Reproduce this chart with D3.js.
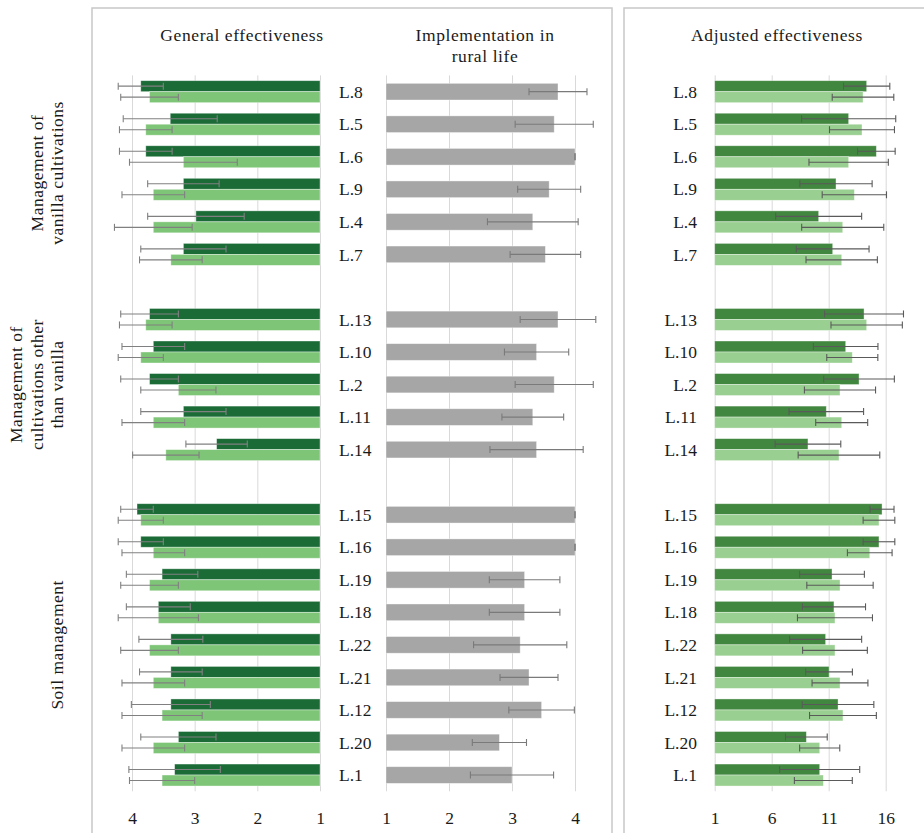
<!DOCTYPE html>
<html>
<head>
<meta charset="utf-8">
<script src="https://cdn.jsdelivr.net/npm/d3@7/dist/d3.min.js"></script>
<style>
  html, body { margin: 0; padding: 0; background: #fff; }
  svg { display: block; font-family: "Liberation Serif", "DejaVu Serif", serif; }
</style>
</head>
<body>
<svg id="chart" width="924" height="833"></svg>
<script>
// Practices, grouped by management area (top to bottom)
const groupNames = [
  ["Management of", "vanilla cultivations"],
  ["Management of", "cultivations other", "than vanilla"],
  ["Soil management"]
];
const groupItems = [
  ["L.8", "L.5", "L.6", "L.9", "L.4", "L.7"],
  ["L.13", "L.10", "L.2", "L.11", "L.14"],
  ["L.15", "L.16", "L.19", "L.18", "L.22", "L.21", "L.12", "L.20", "L.1"]
];
const items = groupItems.flat();

// General effectiveness (scale 1–4), two series with ± deviation
const generalDark    = [3.86, 3.39, 3.78, 3.18, 2.98, 3.18, 3.72, 3.66, 3.72, 3.18, 2.65, 3.92, 3.86, 3.52, 3.58, 3.38, 3.38, 3.38, 3.26, 3.32];
const generalDarkErr = [0.36, 0.75, 0.42, 0.57, 0.77, 0.68, 0.46, 0.50, 0.46, 0.68, 0.49, 0.26, 0.36, 0.57, 0.51, 0.51, 0.50, 0.63, 0.60, 0.73];
const generalLight    = [3.72, 3.78, 3.18, 3.66, 3.66, 3.38, 3.78, 3.86, 3.26, 3.66, 3.46, 3.86, 3.66, 3.72, 3.58, 3.72, 3.66, 3.52, 3.66, 3.52];
const generalLightErr = [0.46, 0.42, 0.86, 0.50, 0.62, 0.50, 0.42, 0.36, 0.60, 0.50, 0.53, 0.36, 0.50, 0.46, 0.64, 0.46, 0.50, 0.64, 0.50, 0.52];

// Implementation in rural life (scale 1–4)
const implementation    = [3.73, 3.67, 4.00, 3.59, 3.33, 3.53, 3.73, 3.39, 3.67, 3.33, 3.39, 4.00, 4.00, 3.20, 3.20, 3.13, 3.27, 3.47, 2.80, 3.00];
const implementationErr = [0.46, 0.62, 0.00, 0.50, 0.72, 0.56, 0.60, 0.51, 0.62, 0.49, 0.74, 0.00, 0.00, 0.56, 0.56, 0.74, 0.46, 0.52, 0.43, 0.66];

// Adjusted effectiveness (scale 1–16)
const adjustedDark    = [14.33, 12.75, 15.18, 11.64, 10.12, 11.35, 14.10, 12.49, 13.66, 10.79, 9.18, 15.68, 15.41, 11.29, 11.46, 10.73, 11.03, 11.82, 9.04, 10.21];
const adjustedDarkErr = [2.03, 4.13, 1.65, 3.17, 3.77, 3.19, 3.46, 2.83, 3.10, 3.27, 2.88, 1.05, 1.39, 2.84, 2.77, 3.16, 2.05, 3.14, 1.83, 3.51];
const adjustedLight    = [14.01, 13.92, 12.75, 13.25, 12.23, 12.14, 14.33, 13.07, 11.99, 12.14, 11.90, 15.41, 14.60, 11.99, 11.55, 11.55, 11.99, 12.25, 10.21, 10.53];
const adjustedLightErr = [2.70, 2.85, 3.48, 2.82, 3.60, 3.13, 3.13, 2.24, 3.12, 2.28, 3.58, 1.39, 1.96, 2.91, 3.29, 2.84, 2.45, 2.93, 1.76, 2.54];

// Axis ticks
const ticksGeneral = [4, 3, 2, 1];
const ticksImpl = [1, 2, 3, 4];
const ticksAdjusted = [1, 6, 11, 16];

const svg = d3.select("#chart");

// Row slots: one blank slot between groups
const slots = [];
groupItems.forEach((g, i) => {
  if (i > 0) slots.push("gap" + i);
  g.forEach(d => slots.push(d));
});

const plotTop = 75.4, plotBottom = 791.3;
const y = d3.scaleBand().domain(slots).range([plotTop, plotBottom]).paddingInner(0).paddingOuter(0);
const ySub = d3.scaleBand().domain(["dark", "light"]).range([0, y.bandwidth()]).paddingInner(0).paddingOuter(0.48);

const xGeneral = d3.scaleLinear().domain([1, 4]).range([320, 132]);
const xImpl = d3.scaleLinear().domain([1, 4]).range([386, 575]);
const xAdj = d3.scaleLinear().domain([1, 16]).range([714.7, 885.7]);

const gridColor = "#d9d9d9";
const textColor = "#1a1a1a";

// Panel frames
svg.append("rect").attr("x", 92).attr("y", 8).attr("width", 520).attr("height", 840)
  .attr("fill", "none").attr("stroke", "#c8c8c8").attr("stroke-width", 1.5);
svg.append("rect").attr("x", 624).attr("y", 8).attr("width", 320).attr("height", 840)
  .attr("fill", "none").attr("stroke", "#c8c8c8").attr("stroke-width", 1.5);

// Axis with gridlines spanning the plot
function drawAxis(scale, ticks) {
  const g = svg.append("g")
    .attr("transform", `translate(0,${plotBottom})`)
    .call(d3.axisBottom(scale).tickValues(ticks).tickFormat(d3.format("d"))
      .tickSize(-(plotBottom - plotTop)).tickPadding(20));
  g.select(".domain").remove();
  g.selectAll(".tick line").attr("stroke", gridColor).attr("stroke-width", 1);
  g.selectAll(".tick text").attr("fill", textColor)
    .style("font-family", "'Liberation Serif', serif").style("font-size", "17.5px");
}
drawAxis(xGeneral, ticksGeneral);
drawAxis(xImpl, ticksImpl);
drawAxis(xAdj, ticksAdjusted);

// Paired bars with error bars
function drawPaired(scale, series, colors, errColor) {
  const g = svg.append("g");
  series.forEach((s, si) => {
    const key = si === 0 ? "dark" : "light";
    const rows = items.map((name, i) => ({ name, v: s.values[i], e: s.errors[i] }));
    g.selectAll(null).data(rows).enter().append("rect")
      .attr("x", d => Math.min(scale(1), scale(d.v)))
      .attr("y", d => y(d.name) + ySub(key))
      .attr("width", d => Math.abs(scale(d.v) - scale(1)))
      .attr("height", ySub.bandwidth())
      .attr("fill", colors[si])
      .attr("stroke", "#ffffff").attr("stroke-opacity", 0.5).attr("stroke-width", 0.75);
    drawErrors(g, scale, rows, d => y(d.name) + ySub(key) + ySub.bandwidth() / 2, errColor);
  });
}

function drawErrors(g, scale, rows, cy, color) {
  const eg = g.append("g").attr("stroke", color).attr("stroke-width", 1.1).attr("fill", "none");
  rows.forEach(d => {
    const yc = cy(d);
    const x0 = scale(d.v - d.e), x1 = scale(d.v + d.e);
    eg.append("line").attr("x1", x0).attr("x2", x1).attr("y1", yc).attr("y2", yc);
    [x0, x1].forEach(x => eg.append("line").attr("x1", x).attr("x2", x).attr("y1", yc - 3.5).attr("y2", yc + 3.5));
  });
}

drawPaired(xGeneral,
  [{ values: generalDark, errors: generalDarkErr }, { values: generalLight, errors: generalLightErr }],
  ["#1b6b37", "#7ec577"], "#808080");

// Single-series bars for implementation
{
  const g = svg.append("g");
  const rows = items.map((name, i) => ({ name, v: implementation[i], e: implementationErr[i] }));
  const h = ySub.bandwidth() * 2 * 0.94;
  g.selectAll(null).data(rows).enter().append("rect")
    .attr("x", xImpl(1))
    .attr("y", d => y(d.name) + y.bandwidth() / 2 - h / 2 + 2)
    .attr("width", d => xImpl(d.v) - xImpl(1))
    .attr("height", h - 4)
    .attr("fill", "#a6a6a6")
    .attr("stroke", "#ffffff").attr("stroke-opacity", 0.5).attr("stroke-width", 0.75);
  drawErrors(g, xImpl, rows, d => y(d.name) + y.bandwidth() / 2, "#7a7a7a");
}

drawPaired(xAdj,
  [{ values: adjustedDark, errors: adjustedDarkErr }, { values: adjustedLight, errors: adjustedLightErr }],
  ["#42873f", "#99cf90"], "#5a5a5a");

// Row labels between the left panels and in the right panel
svg.append("g").selectAll("text").data(items).enter().append("text")
  .attr("x", 339).attr("y", d => y(d) + y.bandwidth() / 2)
  .attr("dy", "0.35em").attr("fill", textColor).style("font-size", "17.5px")
  .text(d => d);
svg.append("g").selectAll("text").data(items).enter().append("text")
  .attr("x", 697).attr("y", d => y(d) + y.bandwidth() / 2)
  .attr("dy", "0.35em").attr("text-anchor", "end").attr("fill", textColor).style("font-size", "17.5px")
  .text(d => d);

// Panel titles
const titles = [
  { x: 242, lines: ["General effectiveness"] },
  { x: 485, lines: ["Implementation in", "rural life"] },
  { x: 777, lines: ["Adjusted effectiveness"] }
];
titles.forEach(t => {
  const txt = svg.append("text").attr("text-anchor", "middle").attr("fill", textColor)
    .style("font-size", "17.5px").style("letter-spacing", "0.6px");
  t.lines.forEach((l, i) => txt.append("tspan").attr("x", t.x).attr("y", 41 + i * 21).text(l));
});

// Group labels, rotated, centred on each group's rows
groupNames.forEach((lines, gi) => {
  const first = groupItems[gi][0], last = groupItems[gi][groupItems[gi].length - 1];
  const cy = (y(first) + y(last) + y.bandwidth()) / 2;
  const n = lines.length;
  const txt = svg.append("text").attr("text-anchor", "middle").attr("fill", textColor)
    .style("font-size", "17.5px").style("letter-spacing", "0.5px")
    .attr("transform", `translate(0,${cy}) rotate(-90)`);
  lines.forEach((l, i) => {
    txt.append("tspan").attr("x", 0).attr("y", 63 - (n - 1 - i) * 20.5).text(l);
  });
});
</script>
</body>
</html>
